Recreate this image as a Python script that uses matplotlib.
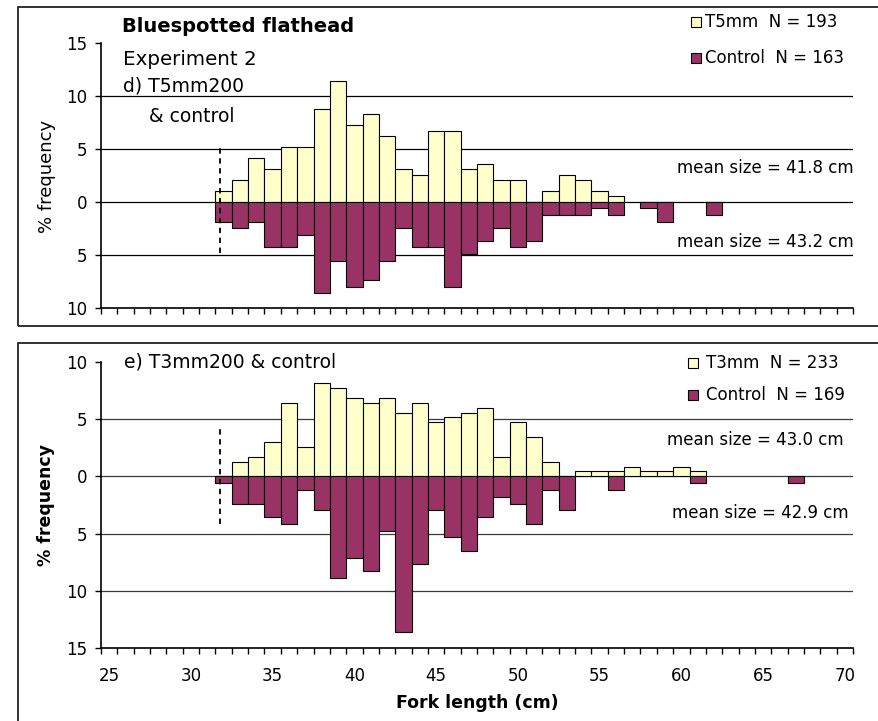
import numpy as np
import matplotlib
matplotlib.use("Agg")
import matplotlib.pyplot as plt
from matplotlib.patches import Rectangle
from matplotlib.lines import Line2D
from matplotlib.ticker import FuncFormatter, MultipleLocator

# ---------------------------------------------------------------
# Data: % frequency by fork length (cm)
# ---------------------------------------------------------------
# d) T5mm200 & control
len_t5 = list(range(32, 57))
pct_t5 = [1.04, 2.07, 4.15, 3.11, 5.18, 5.18, 8.81, 11.40, 7.25, 8.29,
          6.22, 3.11, 2.59, 6.74, 6.74, 3.11, 3.63, 2.07, 2.07, 0.0,
          1.04, 2.59, 2.07, 1.04, 0.52]
len_ctrl_d = list(range(32, 63))
pct_ctrl_d = [1.84, 2.45, 1.84, 4.29, 4.29, 3.07, 8.59, 5.52, 7.98, 7.36,
              5.52, 2.45, 4.29, 4.29, 7.98, 4.91, 3.68, 2.45, 4.29, 3.68,
              1.23, 1.23, 1.23, 0.61, 1.23, 0.0, 0.61, 1.84, 0.0, 0.0, 1.23]

# e) T3mm200 & control
len_t3 = list(range(32, 62))
pct_t3 = [0.0, 1.29, 1.72, 3.00, 6.44, 2.58, 8.15, 7.73, 6.87, 6.44,
          6.87, 5.58, 6.44, 4.72, 5.15, 5.58, 6.01, 1.72, 4.72, 3.43,
          1.29, 0.0, 0.43, 0.43, 0.43, 0.86, 0.43, 0.43, 0.86, 0.43]
len_ctrl_e = list(range(32, 68))
pct_ctrl_e = [0.59, 2.37, 2.37, 3.55, 4.14, 1.18, 2.96, 8.88, 7.10, 8.28,
              4.73, 13.61, 7.69, 2.96, 5.33, 6.51, 3.55, 1.78, 2.37, 4.14,
              1.18, 2.96, 0.0, 0.0, 1.18, 0.0, 0.0, 0.0, 0.0, 0.59,
              0.0, 0.0, 0.0, 0.0, 0.0, 0.59]

legend_d = ["T5mm  N = 193", "Control  N = 163"]
legend_e = ["T3mm  N = 233", "Control  N = 169"]
means_d = ["mean size = 41.8 cm", "mean size = 43.2 cm"]
means_e = ["mean size = 43.0 cm", "mean size = 42.9 cm"]
xtick_vals = [25, 30, 35, 40, 45, 50, 55, 60, 65, 70]

YELLOW = "#FFFFCC"
PURPLE = "#993366"

W, H = 879, 721
plt.rcParams['font.family'] = ['DejaVu Sans']


def px(x, y):
    return x / W, 1 - y / H


fig = plt.figure(figsize=(W / 100, H / 100), dpi=100)

# panel borders
for (x0, y0, x1, y1) in [(18, 7, 900, 326), (18, 343, 900, 760)]:
    fx0, fy1 = px(x0, y0)
    fx1, fy0 = px(x1, y1)
    fig.add_artist(Rectangle((fx0, fy0), fx1 - fx0, fy1 - fy0, transform=fig.transFigure,
                             fill=False, edgecolor="#222222", linewidth=1.3, clip_on=False))

# axes rectangles (pixels): left 101, right 853
ax1 = fig.add_axes([101 / W, 1 - 308 / H, 752 / W, (308 - 43) / H])
ax2 = fig.add_axes([101 / W, 1 - 648 / H, 752 / W, (648 - 362) / H])


def draw_panel(ax, lt, pt, lc, pc, ylo, yhi, gridcol, dash_lo, dash_hi):
    lt = np.array(lt); pt = np.array(pt)
    lc = np.array(lc); pc = np.array(pc)
    mt = pt > 0
    mc = pc > 0
    ax.bar(lt[mt], pt[mt], width=1.0, color=YELLOW, edgecolor="black", linewidth=0.8, zorder=3)
    ax.bar(lc[mc], -pc[mc], width=1.0, color=PURPLE, edgecolor="black", linewidth=0.8, zorder=3)
    ax.set_xlim(24.5, 70.5)
    ax.set_ylim(ylo, yhi)
    for g in range(ylo + 5, yhi, 5):
        ax.axhline(g, color=gridcol, linewidth=0.9, zorder=1)
    ax.plot([31.8, 31.8], [dash_lo, dash_hi], color="black", linestyle=(0, (3, 2.5)),
            linewidth=1.3, zorder=4)
    ax.yaxis.set_major_locator(MultipleLocator(5))
    ax.yaxis.set_major_formatter(FuncFormatter(lambda v, p: f"{abs(v):.0f}"))
    ax.set_xticks(xtick_vals)
    ax.set_xticks(np.arange(24.5, 71, 1.0), minor=True)
    ax.tick_params(axis="x", which="major", length=0, labelsize=12, pad=14)
    ax.tick_params(axis="x", which="minor", length=4, width=1.0, direction="out")
    ax.tick_params(axis="y", which="major", length=4, width=1.0, direction="out",
                   labelsize=12, pad=6)
    for s in ["top", "right"]:
        ax.spines[s].set_visible(False)
    for s in ["left", "bottom"]:
        ax.spines[s].set_linewidth(1.2)
    ax.set_facecolor("none")


draw_panel(ax1, len_t5, pct_t5, len_ctrl_d, pct_ctrl_d, -10, 15, "black", -4.8, 5.1)
draw_panel(ax2, len_t3, pct_t3, len_ctrl_e, pct_ctrl_e, -15, 10, "#3a3a3a", -4.2, 4.1)
ax1.tick_params(axis="x", labelbottom=False)

# y labels
fig.text(*px(47, 176), "% frequency", rotation=90, ha="center", va="center", fontsize=13)
fig.text(*px(46, 505), "% frequency", rotation=90, ha="center", va="center",
         fontsize=12.5, fontweight="bold")
fig.text(*px(477, 703), "Fork length (cm)", ha="center", va="center", fontsize=12.5,
         fontweight="bold")

# panel annotations
fig.text(*px(122, 32), "Bluespotted flathead", ha="left", va="baseline", fontsize=14,
         fontweight="bold")
fig.text(*px(123, 65), "Experiment 2", ha="left", va="baseline", fontsize=14.3)
fig.text(*px(123, 92), "d) T5mm200", ha="left", va="baseline", fontsize=13.5)
fig.text(*px(149, 122), "& control", ha="left", va="baseline", fontsize=13.5)
fig.text(*px(124, 368), "e) T3mm200 & control", ha="left", va="baseline", fontsize=13.5)


# legends (manual)
def legend_rows(rows, sq_x, sq_w, text_x):
    for (label, color, base) in rows:
        fx, fy = px(sq_x, base)
        fig.add_artist(Rectangle((fx, fy), sq_w / W, sq_w / H, transform=fig.transFigure,
                                 facecolor=color, edgecolor="black", linewidth=0.8))
        fig.text(*px(text_x, base), label, ha="left", va="baseline", fontsize=12)


legend_rows([(legend_d[0], YELLOW, 27), (legend_d[1], PURPLE, 63)], 691, 10, 705)
legend_rows([(legend_e[0], YELLOW, 368), (legend_e[1], PURPLE, 400)], 688, 10, 706)

# mean size labels
fig.text(*px(854, 173), means_d[0], ha="right", va="baseline", fontsize=12)
fig.text(*px(854, 247), means_d[1], ha="right", va="baseline", fontsize=12)
fig.text(*px(844, 445), means_e[0], ha="right", va="baseline", fontsize=12)
fig.text(*px(849, 518), means_e[1], ha="right", va="baseline", fontsize=12)

fig.savefig("out.png", dpi=100)
